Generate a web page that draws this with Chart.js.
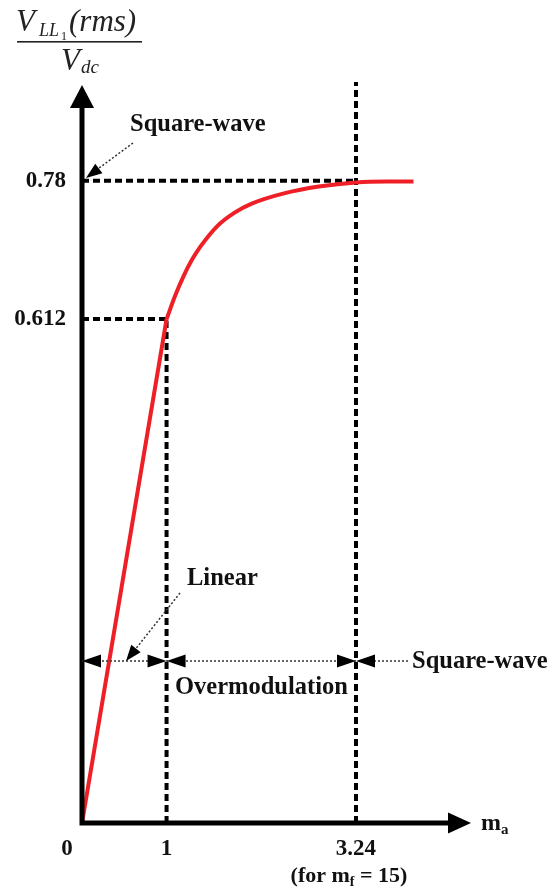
<!DOCTYPE html>
<html><head><meta charset="utf-8">
<script src="https://cdn.jsdelivr.net/npm/chart.js@4.4.1/dist/chart.umd.min.js"></script>
<style>html,body{margin:0;padding:0;background:#fff;}#wrap{width:550px;height:890px;position:relative;}</style>
</head><body><div id="wrap"><canvas id="c"></canvas></div>
<script>
// ---- data ----
const maLinear = [0, 1];
const vLinear = [0, 0.612];
const maCurve = [1, 1.1, 1.2, 1.3, 1.4, 1.6, 1.8, 2.0, 2.4, 2.8, 3.24, 3.6, 3.92];
const vCurve = [0.612, 0.640, 0.664, 0.684, 0.700, 0.725, 0.741, 0.752, 0.765, 0.773, 0.778, 0.779, 0.779];
const xTicks = [1, 3.24];
const xTickLabels = ['1', '3.24'];
const yTicks = [0.612, 0.78];
const yTickLabels = ['0.612', '0.78'];
const originLabel = '0';
const regionBounds = [0, 1, 3.24];
const regionLabels = ['Linear', 'Overmodulation', 'Square-wave'];
const xAxisLabel = 'm';
const xAxisSub = 'a';
const noteMain = '(for m';
const noteSub = 'f';
const noteEnd = ' = 15)';
const squareLabel = 'Square-wave';
const xMax = 4.6, yMax = 0.9;

const SERIF = '"Liberation Serif","Times New Roman",serif';
const pts = (xs, ys) => xs.map((v, i) => ({x: v, y: ys[i]}));

const guideStyle = {borderColor:'#000', borderWidth:4, borderDash:[7,4], pointRadius:0, fill:false, tension:0};
const datasets = [
  {data: pts(maLinear, vLinear), borderColor:'#ee1f26', borderWidth:4, pointRadius:0, tension:0, fill:false},
  {data: pts(maCurve, vCurve), borderColor:'#ee1f26', borderWidth:4, pointRadius:0, cubicInterpolationMode:'monotone', fill:false},
  Object.assign({data: [{x:0,y:yTicks[1]},{x:xTicks[1],y:yTicks[1]}]}, guideStyle),
  Object.assign({data: [{x:0,y:yTicks[0]},{x:xTicks[0],y:yTicks[0]}]}, guideStyle),
  Object.assign({data: [{x:xTicks[0],y:0},{x:xTicks[0],y:yTicks[0]}]}, guideStyle),
  Object.assign({data: [{x:xTicks[1],y:0},{x:xTicks[1],y:yMax}]}, guideStyle),
];

function head(ctx, tx, ty, ang, len, hw){
  const bx = tx - len*Math.cos(ang), by = ty - len*Math.sin(ang);
  const nx = -Math.sin(ang), ny = Math.cos(ang);
  ctx.beginPath();
  ctx.moveTo(tx, ty);
  ctx.lineTo(bx + hw*nx, by + hw*ny);
  ctx.lineTo(bx - hw*nx, by - hw*ny);
  ctx.closePath();
  ctx.fill();
}
function dotted(ctx, x1, y1, x2, y2){
  ctx.save();
  ctx.setLineDash([2,2]); ctx.lineWidth = 1.5; ctx.strokeStyle = '#333';
  ctx.beginPath(); ctx.moveTo(x1,y1); ctx.lineTo(x2,y2); ctx.stroke();
  ctx.restore();
}

const overlay = {
  id:'overlay',
  afterDatasetsDraw(chart){
    const {ctx, chartArea:ca, scales:{x, y}} = chart;
    const x0 = x.getPixelForValue(0), y0 = y.getPixelForValue(0);
    ctx.save();
    ctx.fillStyle = '#000'; ctx.strokeStyle = '#000';
    // axes
    ctx.lineWidth = 5; ctx.lineJoin = 'miter'; ctx.lineCap = 'butt';
    ctx.beginPath(); ctx.moveTo(x0, ca.top + 18); ctx.lineTo(x0, y0); ctx.lineTo(ca.right - 18, y0); ctx.stroke();
    head(ctx, x0, ca.top + 3, -Math.PI/2, 23, 12);
    head(ctx, ca.right, y0, 0, 23, 10.5);

    // dimension line
    const dimY = 661;
    const xb = regionBounds.map(v => x.getPixelForValue(v));
    dotted(ctx, xb[0], dimY, xb[2], dimY);
    dotted(ctx, xb[2] + 18, dimY, xb[2] + 52, dimY);
    head(ctx, xb[0], dimY, Math.PI, 19, 6.5);
    head(ctx, xb[1], dimY, 0, 19, 6.5);
    head(ctx, xb[1], dimY, Math.PI, 19, 6.5);
    head(ctx, xb[2], dimY, 0, 19, 6.5);
    head(ctx, xb[2], dimY, Math.PI, 19, 6.5);

    // pointers
    dotted(ctx, 180, 593, 134, 651);
    head(ctx, 126, 661, Math.atan2(661-593, 126-180), 16, 6);
    dotted(ctx, 133, 143, 95, 171);
    head(ctx, 86, 178, Math.atan2(178-143, 86-133), 16, 6);

    // labels
    ctx.fillStyle = '#111';
    ctx.textBaseline = 'alphabetic'; ctx.textAlign = 'left';
    ctx.font = 'bold 24.5px ' + SERIF;
    ctx.fillText(squareLabel, 130, 131);
    ctx.fillText(regionLabels[0], 187, 585);
    ctx.fillText(regionLabels[1], 175, 694);
    ctx.fillText(regionLabels[2], 412, 668);
    // origin label
    ctx.textAlign = 'center';
    ctx.font = 'bold 23px ' + SERIF;
    ctx.fillText(originLabel, 67, 855);
    // x axis title
    ctx.textAlign = 'left';
    ctx.font = 'bold 24px ' + SERIF;
    ctx.fillText(xAxisLabel, 481, 830);
    ctx.font = 'bold 15px ' + SERIF;
    ctx.fillText(xAxisSub, 501, 834);
    // note
    ctx.font = 'bold 22px ' + SERIF;
    const w1 = ctx.measureText(noteMain).width;
    ctx.font = 'bold 14px ' + SERIF;
    const w2 = ctx.measureText(noteSub).width;
    ctx.font = 'bold 22px ' + SERIF;
    const w3 = ctx.measureText(noteEnd).width;
    let sx = 349 - (w1 + w2 + w3)/2;
    ctx.fillText(noteMain, sx, 882); sx += w1;
    ctx.font = 'bold 14px ' + SERIF; ctx.fillText(noteSub, sx, 886); sx += w2;
    ctx.font = 'bold 22px ' + SERIF; ctx.fillText(noteEnd, sx, 882);

    // y axis title (fraction)
    ctx.fillStyle = '#222';
    ctx.font = 'italic 31px ' + SERIF;
    ctx.fillText('V', 16, 31);
    ctx.font = 'italic 18px ' + SERIF;
    ctx.fillText('LL', 39, 36);
    ctx.font = '12px ' + SERIF;
    ctx.fillText('1', 61, 40);
    ctx.font = 'italic 31px ' + SERIF;
    ctx.fillText('(rms)', 69, 31);
    ctx.fillRect(17, 41, 125, 1.6);
    ctx.fillText('V', 61, 70);
    ctx.font = 'italic 19px ' + SERIF;
    ctx.fillText('dc', 81, 73);
    ctx.restore();
  }
};

new Chart(document.getElementById('c'), {
  type:'line',
  data:{datasets},
  options:{
    responsive:true, maintainAspectRatio:false, animation:false,
    layout:{padding:{top:82, right:79, left:0, bottom:0}},
    plugins:{legend:{display:false}, tooltip:{enabled:false}},
    scales:{
      x:{type:'linear', min:0, max:xMax,
        grid:{display:false, drawTicks:false}, border:{display:false},
        afterFit(s){ s.height = 67; },
        afterBuildTicks(s){ s.ticks = xTicks.map(v => ({value:v})); },
        ticks:{color:'#111', padding:12, maxRotation:0, autoSkip:false,
          font:{family:SERIF, weight:'bold', size:23},
          callback:(v) => xTickLabels[xTicks.indexOf(v)] ?? ''}},
      y:{type:'linear', min:0, max:yMax,
        grid:{display:false, drawTicks:false}, border:{display:false},
        afterFit(s){ s.width = 82; },
        afterBuildTicks(s){ s.ticks = yTicks.map(v => ({value:v})); },
        ticks:{color:'#111', padding:16, autoSkip:false,
          font:{family:SERIF, weight:'bold', size:23},
          callback:(v) => yTickLabels[yTicks.indexOf(v)] ?? ''}}
    }
  },
  plugins:[overlay]
});
</script></body></html>
